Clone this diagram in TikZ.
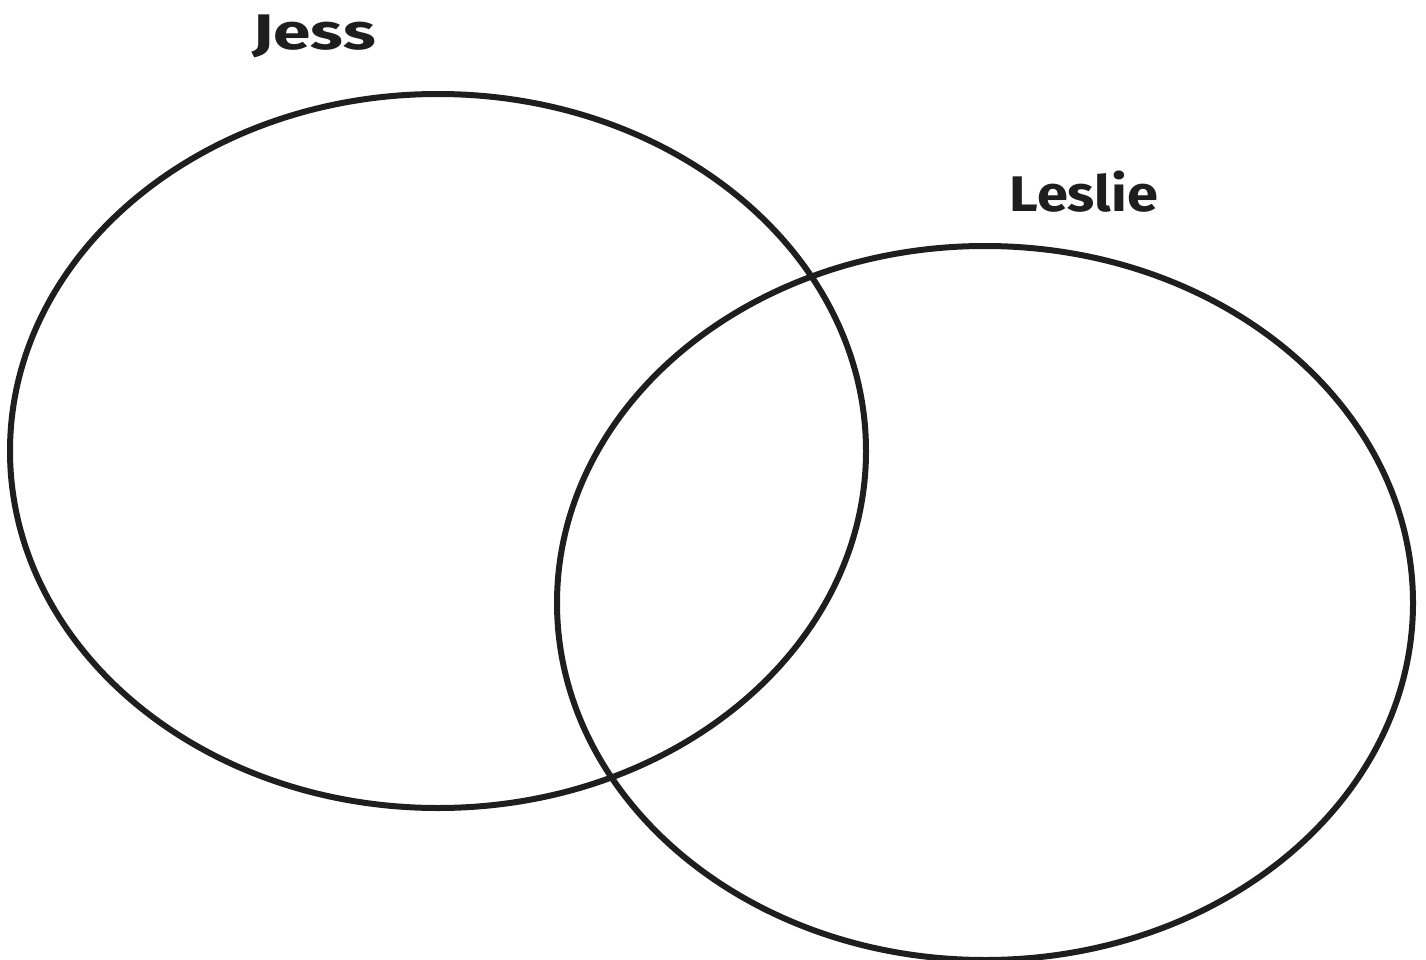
\documentclass[tikz,border=0pt]{standalone}
\usepackage{fontspec}
\setmainfont{Fira Sans}
\definecolor{ink}{HTML}{1E1E1E}
\begin{document}
\begin{tikzpicture}[x=1pt,y=-1pt,
  ring/.style={draw=ink,line width=6pt},
  lbl/.style={text=ink,font=\fontsize{50}{54}\selectfont\bfseries,inner sep=0pt}]
\useasboundingbox (0,0) rectangle (1426,960);
\draw[ring] (438,451) ellipse [x radius=428, y radius=357];
\draw[ring] (985,603) ellipse [x radius=428, y radius=357];
\node[lbl,xscale=1.35] (jess) at (314,36) {Jess};
\node[lbl,xscale=1.12] (leslie) at (1084,192) {Leslie};
\end{tikzpicture}
\end{document}
